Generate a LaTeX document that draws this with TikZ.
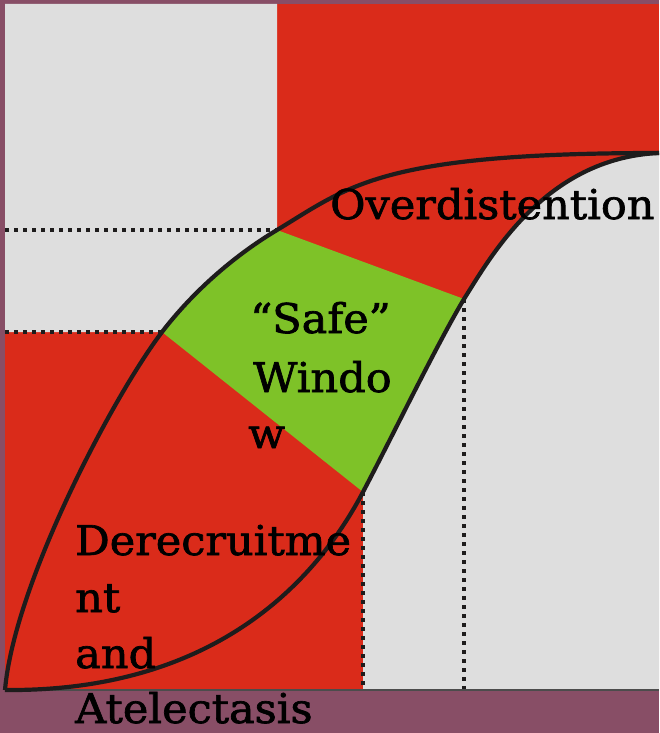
\documentclass[tikz,border=0pt]{standalone}
\usepackage{fontspec}
\newfontfamily\slab[FakeBold=1.6]{DejaVu Serif}
\definecolor{bgpurple}{RGB}{136,78,102}
\definecolor{zred}{RGB}{218,43,26}
\definecolor{zgreen}{RGB}{126,194,40}
\definecolor{zgray}{RGB}{222,222,222}
\definecolor{zink}{RGB}{30,28,28}
\newcommand\sx[1]{\scalebox{1.05}[1]{#1}}
\begin{document}
\begin{tikzpicture}[x=1pt,y=-1pt,
  curve/.style={draw=zink,line width=4.2pt},
  dotline/.style={draw=zink,line width=3.4pt,dash pattern=on 4pt off 5pt},
  lbl/.style={font=\slab\fontsize{41}{41}\selectfont,anchor=base west,inner sep=0pt,text=black}]
\useasboundingbox (0,0) rectangle (659,733);
\fill[bgpurple] (0,0) rectangle (659,733);
% key points
\coordinate (O) at (5,690);
\coordinate (A) at (162,332);
\coordinate (B) at (277,230);
\coordinate (T) at (659,153);
\coordinate (C) at (464,299);
\coordinate (D) at (363,492);
\coordinate (L1) at (5,230);
\coordinate (L2) at (5,332);
\coordinate (F1) at (363,690);
\coordinate (F2) at (464,690);
\coordinate (R1) at (659,690);
% areas
\fill[zred] (5,4) rectangle (659,690);
\fill[zgray] (5,4) -- (277,4) -- (B) .. controls (232,257) and (192,293) .. (A) -- (L2) -- cycle;
\fill[zgray] (T) .. controls (545,158) and (490,258) .. (C) .. controls (436,346) and (393,435) .. (D) -- (F1) -- (R1) -- cycle;
\fill[zgreen] (A) .. controls (192,293) and (232,257) .. (B) -- (C) .. controls (436,346) and (393,435) .. (D) -- cycle;
% dotted guides
\draw[dotline] (L1) -- (B);
\draw[dotline] (L2) -- (A);
\draw[dotline] (D) -- (F1);
\draw[dotline] (C) -- (F2);
% baseline
\draw[draw=black!70,line width=1.6pt] (O) -- (R1);
% curves
\draw[curve] (O) .. controls (14,585) and (112,398) .. (A) .. controls (192,293) and (232,257) .. (B) .. controls (350,186) and (380,153) .. (T);
\draw[curve] (O) .. controls (225,692) and (322,570) .. (D) .. controls (393,435) and (436,346) .. (C) .. controls (490,258) and (545,158) .. (T);
% labels
\node[lbl] (ov) at (330,219) {\sx{Overdistention}};
\node[lbl] (sw1) at (250,333) {\sx{“Safe”}};
\node[lbl] (sw2) at (253,392) {\sx{Windo}};
\node[lbl] (sw3) at (248,448) {\sx{w}};
\node[lbl] (dr1) at (75,555) {\sx{Derecruitme}};
\node[lbl] (dr2) at (75,612) {\sx{nt}};
\node[lbl] (dr3) at (75,668) {\sx{and}};
\node[lbl] (dr4) at (75,723) {\sx{Atelectasis}};
\end{tikzpicture}
\end{document}
